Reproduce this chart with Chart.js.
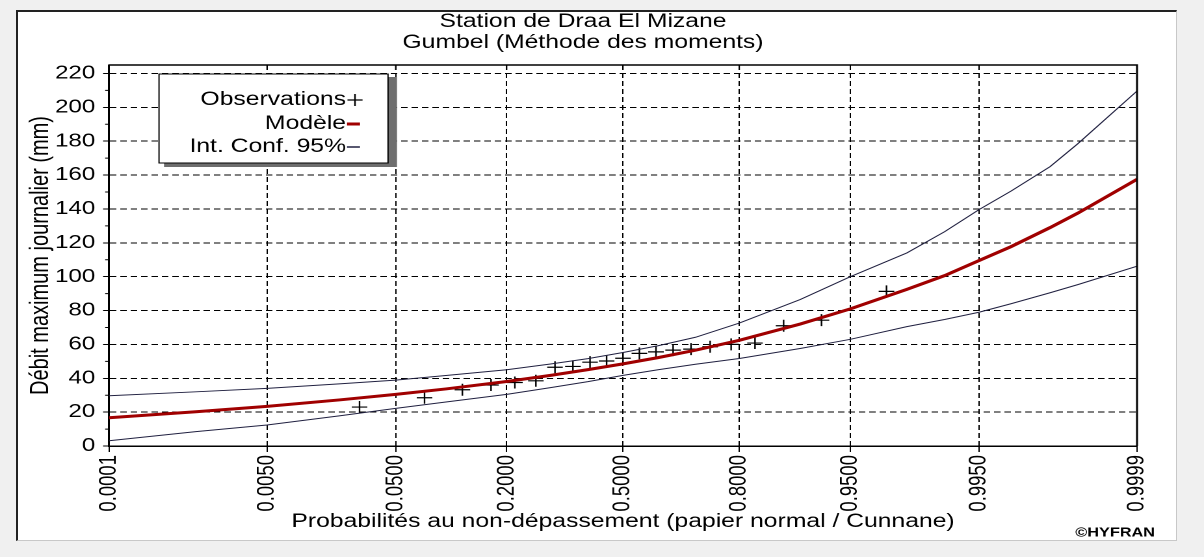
<!DOCTYPE html>
<html>
<head>
<meta charset="utf-8">
<title>Station de Draa El Mizane - Gumbel</title>
<script src="https://cdn.jsdelivr.net/npm/chart.js@4.4.0/dist/chart.umd.min.js"></script>
<style>
  html, body { margin: 0; padding: 0; background: #f0f0f0; overflow: hidden; }
  #panel { position: absolute; left: 16px; top: 10px; width: 1158px; height: 528px; background: #fff;
           border-top: 2px solid #222; border-left: 2px solid #222;
           border-right: 1px solid #c8c8c8; border-bottom: 1px solid #c8c8c8; }
  #chart { position: absolute; left: 0; top: 0; }
</style>
</head>
<body>
<div id="panel"></div>
<canvas id="chart" width="926" height="557" style="width:1204px;height:557px"></canvas>
<script>
const xTickProbs = [0.0001, 0.005, 0.05, 0.2, 0.5, 0.8, 0.95, 0.995, 0.9999];
const xTickLabels = ['0.0001', '0.0050', '0.0500', '0.2000', '0.5000', '0.8000', '0.9500', '0.9950', '0.9999'];
const yTicks = [0, 20, 40, 60, 80, 100, 120, 140, 160, 180, 200, 220];
const yMinorTicks = [10, 30, 50, 70, 90, 110, 130, 150, 170, 190, 210];

// observations (probabilité Cunnane, débit en mm)
const obsProb = [0.0283, 0.0755, 0.1226, 0.1698, 0.2170, 0.2642, 0.3113, 0.3585, 0.4057, 0.4528, 0.5000,
                 0.5472, 0.5943, 0.6415, 0.6887, 0.7358, 0.7830, 0.8302, 0.8774, 0.9245, 0.9717];
const obsValue = [23.0, 28.5, 33.2, 36.0, 37.5, 38.5, 46.5, 47.0, 49.5, 50.2, 51.8,
                  54.7, 55.6, 56.6, 57.2, 58.6, 60.0, 60.8, 71.0, 74.3, 91.3];

// modèle et intervalle de confiance
const curveProb = [0.0001, 0.001, 0.005, 0.02, 0.05, 0.1, 0.2, 0.3, 0.4, 0.5,
                   0.6, 0.7, 0.8, 0.9, 0.95, 0.98, 0.99, 0.995, 0.9975, 0.999, 0.9995, 0.9999];
const modelValue = [16.7, 20.2, 23.4, 27.2, 30.5, 33.7, 38.1, 41.7, 45.1, 48.5,
                    52.2, 56.6, 62.4, 72.0, 81.0, 92.5, 100.6, 109.5, 117.7, 129.0, 137.5, 157.5];
const upperValue = [29.7, 32.0, 34.0, 36.7, 38.9, 41.6, 45.0, 48.4, 51.6, 55.2,
                    59.2, 64.2, 72.6, 86.5, 100.0, 114.0, 126.5, 139.6, 150.5, 165.0, 178.5, 209.6];
const lowerValue = [3.1, 8.5, 12.4, 17.8, 22.2, 26.0, 30.5, 34.5, 38.0, 41.7,
                    45.0, 48.3, 51.7, 57.6, 63.0, 70.5, 74.7, 79.0, 84.0, 90.5, 95.3, 106.2];

const titleLines = ['Station de Draa El Mizane', 'Gumbel (Méthode des moments)'];

// l'image de référence est étirée en largeur : on dessine sur 926 px affichés en 1204 px
const SX = 1204 / 926;
const px = x => x / SX;
const FONT = '"Liberation Sans", Arial, sans-serif';
const FS = 19;

Chart.defaults.font.family = FONT;
Chart.defaults.font.size = FS;
Chart.defaults.color = '#000';

// inverse de la loi normale (papier normal)
function probit(p) {
  const a = [-3.969683028665376e+01, 2.209460984245205e+02, -2.759285104469687e+02,
             1.383577518672690e+02, -3.066479806614716e+01, 2.506628277459239e+00];
  const b = [-5.447609879822406e+01, 1.615858368580409e+02, -1.556989798598866e+02,
             6.680131188771972e+01, -1.328068155288572e+01];
  const c = [-7.784894002430293e-03, -3.223964580411365e-01, -2.400758277161838e+00,
             -2.549732539343734e+00, 4.374664141464968e+00, 2.938163982698783e+00];
  const d = [7.784695709041462e-03, 3.224671290700398e-01, 2.445134137142996e+00,
             3.754408661907416e+00];
  const pl = 0.02425;
  if (p < pl || p > 1 - pl) {
    const q = Math.sqrt(-2 * Math.log(p < pl ? p : 1 - p));
    const z = (((((c[0] * q + c[1]) * q + c[2]) * q + c[3]) * q + c[4]) * q + c[5]) /
              ((((d[0] * q + d[1]) * q + d[2]) * q + d[3]) * q + 1);
    return p < pl ? z : -z;
  }
  const q = p - 0.5, r = q * q;
  return (((((a[0] * r + a[1]) * r + a[2]) * r + a[3]) * r + a[4]) * r + a[5]) * q /
         (((((b[0] * r + b[1]) * r + b[2]) * r + b[3]) * r + b[4]) * r + 1);
}

class ProbitScale extends Chart.LinearScale {
  determineDataLimits() {
    this.min = probit(this.options.min);
    this.max = probit(this.options.max);
  }
  buildTicks() {
    return xTickProbs.map(p => ({ value: p }));
  }
  getPixelForValue(value) {
    return super.getPixelForValue(probit(value));
  }
}
ProbitScale.id = 'probit';
ProbitScale.defaults = Chart.LinearScale.defaults;
Chart.register(ProbitScale);

const area = { left: px(109), right: px(1137), top: 65, bottom: 446 };
const yTitleSize = 20;
const padLeft = px(41) - yTitleSize * 1.2 / 2;
const padBottom = 557 - 522 - FS * 1.2 / 2;

const toPoints = (ps, vs) => ps.map((p, i) => ({ x: p, y: vs[i] }));

const decor = {
  id: 'decor',
  afterDraw(chart) {
    const { ctx, chartArea: a, scales: { x, y } } = chart;
    ctx.save();
    ctx.strokeStyle = '#000';

    // cadre haut et droit
    ctx.lineWidth = 1.5;
    ctx.beginPath();
    ctx.moveTo(a.left, a.top);
    ctx.lineTo(a.right, a.top);
    ctx.lineTo(a.right, a.bottom);
    ctx.stroke();

    // graduations du haut et graduations secondaires
    ctx.lineWidth = 1;
    ctx.beginPath();
    xTickProbs.forEach(p => {
      const X = x.getPixelForValue(p);
      ctx.moveTo(X, a.top);
      ctx.lineTo(X, a.top + 5);
    });
    yMinorTicks.forEach(v => {
      const Y = y.getPixelForValue(v);
      ctx.moveTo(a.left - 3, Y);
      ctx.lineTo(a.left, Y);
    });
    ctx.stroke();

    // légende
    const lg = { left: px(159), top: 74, right: px(388), bottom: 163 };
    ctx.fillStyle = '#6e6e6e';
    ctx.fillRect(lg.right, lg.top + 3, px(9), lg.bottom - lg.top + 1);
    ctx.fillRect(lg.left + px(5), lg.bottom, lg.right - lg.left, 4);
    ctx.fillStyle = '#fff';
    ctx.fillRect(lg.left, lg.top, lg.right - lg.left, lg.bottom - lg.top);
    ctx.strokeRect(lg.left, lg.top, lg.right - lg.left, lg.bottom - lg.top);

    const ds = chart.data.datasets;
    const rows = [[ds[3], 100], [ds[2], 124], [ds[0], 147]];
    ctx.font = FS + 'px ' + FONT;
    ctx.textAlign = 'right';
    ctx.textBaseline = 'middle';
    ctx.fillStyle = '#000';
    rows.forEach(([d, ry]) => {
      ctx.fillText(d.label, px(346), ry);
      ctx.beginPath();
      ctx.strokeStyle = d.pointStyle === 'cross' ? '#000' : d.borderColor;
      if (d.pointStyle === 'cross') {
        const cx = px(355);
        ctx.lineWidth = 1.2;
        ctx.moveTo(cx - 5.8, ry); ctx.lineTo(cx + 5.8, ry);
        ctx.moveTo(cx, ry - 6); ctx.lineTo(cx, ry + 6);
      } else {
        ctx.lineWidth = d.borderWidth === 3 ? 3 : 1.5;
        ctx.moveTo(px(347), ry); ctx.lineTo(px(360), ry);
      }
      ctx.stroke();
    });

    // titres
    ctx.textAlign = 'center';
    ctx.fillText(titleLines[0], px(583), 22);
    ctx.fillText(titleLines[1], px(583), 43);

    ctx.font = 'bold 12.5px ' + FONT;
    ctx.textAlign = 'right';
    ctx.fillText('©HYFRAN', px(1155), 533);
    ctx.restore();
  }
};

new Chart(document.getElementById('chart'), {
  type: 'line',
  data: {
    datasets: [
      { label: 'Int. Conf. 95%', data: toPoints(curveProb, upperValue),
        borderColor: '#202040', borderWidth: 1, pointRadius: 0, tension: 0 },
      { label: 'Int. Conf. 95%', data: toPoints(curveProb, lowerValue),
        borderColor: '#202040', borderWidth: 1, pointRadius: 0, tension: 0 },
      { label: 'Modèle', data: toPoints(curveProb, modelValue),
        borderColor: '#a00000', borderWidth: 3, pointRadius: 0, tension: 0 },
      { label: 'Observations', data: toPoints(obsProb, obsValue), showLine: false,
        pointStyle: 'cross', pointRadius: 6, pointBorderColor: '#000', pointBorderWidth: 1.2 }
    ]
  },
  options: {
    responsive: false,
    devicePixelRatio: 2,
    animation: false,
    events: [],
    layout: { padding: { left: padLeft, top: area.top, right: 926 - area.right, bottom: padBottom } },
    plugins: { legend: { display: false }, tooltip: { enabled: false }, title: { display: false } },
    scales: {
      x: {
        type: 'probit',
        min: 0.0001,
        max: 0.9999,
        afterFit: s => { s.height = 557 - padBottom - area.bottom; },
        ticks: { minRotation: 90, maxRotation: 90, autoSkip: false, padding: 3, font: { size: 18.5 },
                 callback: (v, i) => xTickLabels[i] },
        grid: { color: '#000', lineWidth: 1, tickLength: 6, tickColor: '#000' },
        border: { color: '#000', width: 1.5, dash: [5, 3] },
        title: { display: true, text: 'Probabilités au non-dépassement (papier normal / Cunnane)', padding: 0 }
      },
      y: {
        type: 'linear',
        min: 0,
        max: 225,
        afterFit: s => { s.width = area.left - padLeft; },
        afterBuildTicks: s => { s.ticks = yTicks.map(v => ({ value: v })); },
        ticks: { padding: 6, font: { size: 18.5 } },
        grid: { color: '#000', lineWidth: 1, tickLength: 4.6, tickColor: '#000' },
        border: { color: '#000', width: 1.5, dash: [5, 3] },
        title: { display: true, text: 'Débit maximum journalier (mm)', padding: 0, font: { size: yTitleSize } }
      }
    }
  },
  plugins: [decor]
});
</script>
</body>
</html>
